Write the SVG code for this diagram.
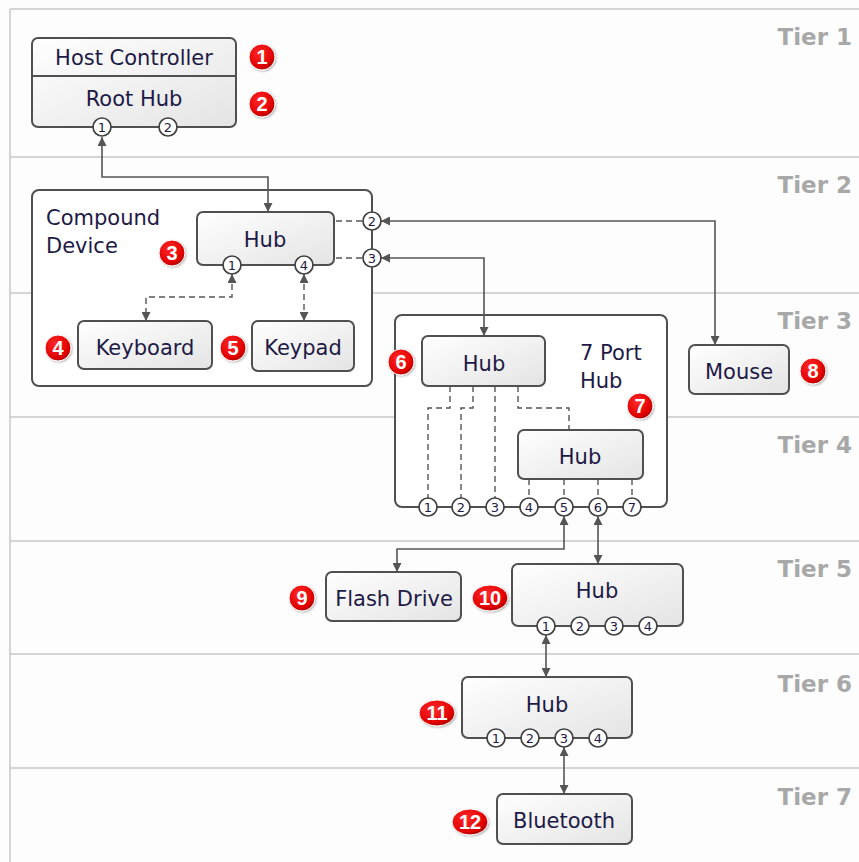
<svg xmlns="http://www.w3.org/2000/svg" width="859" height="862" viewBox="0 0 859 862">
<defs>
<linearGradient id="nf" x1="0" y1="0" x2="1" y2="1"><stop offset="0" stop-color="#ffffff"/><stop offset="1" stop-color="#e4e4e4"/></linearGradient>
<radialGradient id="bf" cx="0.4" cy="0.35" r="0.7"><stop offset="0" stop-color="#ff2a2a"/><stop offset="0.75" stop-color="#e00000"/><stop offset="1" stop-color="#a00000"/></radialGradient>
<marker id="ah" viewBox="0 0 10 10" refX="10" refY="5" markerWidth="9" markerHeight="9" orient="auto-start-reverse" markerUnits="userSpaceOnUse"><path d="M0,0 L10,5 L0,10 z" fill="#555"/></marker>
<filter id="sh" x="-20%" y="-20%" width="150%" height="150%"><feDropShadow dx="1" dy="1" stdDeviation="1" flood-color="#000" flood-opacity="0.3"/></filter>
</defs>
<style>
.tl{stroke:#c8c8c8;stroke-width:1.5;fill:none}
.tier{font-family:"DejaVu Sans",sans-serif;font-weight:bold;font-size:23px;fill:#a8a8a8;text-anchor:end}
.node{fill:url(#nf);stroke:#505050;stroke-width:2}
.grp{fill:#fff;stroke:#505050;stroke-width:2}
.lbl{font-family:"DejaVu Sans",sans-serif;font-size:21px;fill:#1e1a46;text-anchor:middle}
.glbl{font-family:"DejaVu Sans",sans-serif;font-size:21px;fill:#1e1a46}
.port{fill:#fff;stroke:#404040;stroke-width:1.7}
.pn{font-family:"DejaVu Sans",sans-serif;font-size:13px;fill:#1e1a46;text-anchor:middle}
.badge{fill:url(#bf);stroke:#fff;stroke-width:1;filter:url(#sh)}
.bn{font-family:"Liberation Sans",Arial,sans-serif;font-weight:bold;font-size:20px;fill:#fff;text-anchor:middle}
.c{fill:none;stroke:#555;stroke-width:1.6}
.cm{marker-start:url(#ah);marker-end:url(#ah)}
.d{fill:none;stroke:#555;stroke-width:1.4;stroke-dasharray:6,4}
</style>
<rect width="859" height="862" fill="#fdfdfd"/>
<g id="tiers">
<path class="tl" d="M10,9 H859 M10,9 V862 M10,157 H859 M10,293 H859 M10,417 H859 M10,541 H859 M10,654 H859 M10,768 H859"/>
<text class="tier" x="852" y="45">Tier 1</text>
<text class="tier" x="852" y="193">Tier 2</text>
<text class="tier" x="852" y="329">Tier 3</text>
<text class="tier" x="852" y="453">Tier 4</text>
<text class="tier" x="852" y="577">Tier 5</text>
<text class="tier" x="852" y="692">Tier 6</text>
<text class="tier" x="852" y="805">Tier 7</text>
</g>
<g id="compound-device">
<rect class="grp" x="32" y="190" width="340" height="196" rx="7"/>
<text class="glbl" x="46" y="225">Compound</text>
<text class="glbl" x="46" y="253">Device</text>
</g>
<g id="seven-port-hub">
<rect class="grp" x="395" y="315" width="272" height="192" rx="7"/>
<text class="glbl" x="580" y="360">7 Port</text>
<text class="glbl" x="580" y="388">Hub</text>
</g>
<g id="connectors">
<path class="c cm" d="M102,137 V177 H268 V212"/>
<path class="c cm" d="M381,221 H715 V345"/>
<path class="c cm" d="M381,258 H484 V336"/>
<path class="d cm" d="M232,274 V297 H146 V321"/>
<path class="d cm" d="M304,274 V321"/>
<path class="d" d="M336,221 H363 M336,258 H363"/>
<path class="d" d="M450,386 V408 H428 V498 M473,386 V408 H461 V498 M495,386 V498 M518,386 V408 H569 V430 M529,479 V498 M564,479 V498 M598,479 V498 M632,479 V498"/>
<path class="c cm" d="M564,516 V549 H397 V572"/>
<path class="c cm" d="M598,516 V564"/>
<path class="c cm" d="M546,635 V677"/>
<path class="c cm" d="M564,747 V794"/>
</g>
<g id="host-controller">
<rect class="node" x="32" y="38" width="204" height="89" rx="6"/>
<line x1="32" y1="76" x2="236" y2="76" stroke="#505050" stroke-width="2"/>
<text class="lbl" x="134" y="65">Host Controller</text>
<circle class="badge" cx="262" cy="57" r="13"/><text class="bn" x="262" y="64">1</text>
</g>
<g id="root-hub">
<text class="lbl" x="134" y="106">Root Hub</text>
<circle class="port" cx="102" cy="127" r="9"/><text class="pn" x="102" y="132">1</text>
<circle class="port" cx="168" cy="127" r="9"/><text class="pn" x="168" y="132">2</text>
<circle class="badge" cx="262" cy="104" r="13"/><text class="bn" x="262" y="111">2</text>
</g>
<g id="hub-compound">
<rect class="node" x="197" y="212" width="137" height="53" rx="6"/>
<text class="lbl" x="265" y="247">Hub</text>
<circle class="port" cx="232" cy="265" r="9"/><text class="pn" x="232" y="270">1</text>
<circle class="port" cx="304" cy="265" r="9"/><text class="pn" x="304" y="270">4</text>
<circle class="port" cx="372" cy="221" r="9"/><text class="pn" x="372" y="226">2</text>
<circle class="port" cx="372" cy="258" r="9"/><text class="pn" x="372" y="263">3</text>
<circle class="badge" cx="172" cy="253" r="13"/><text class="bn" x="172" y="260">3</text>
</g>
<g id="keyboard">
<rect class="node" x="78" y="321" width="134" height="48" rx="6"/>
<text class="lbl" x="145" y="355">Keyboard</text>
<circle class="badge" cx="58" cy="348" r="13"/><text class="bn" x="58" y="355">4</text>
</g>
<g id="keypad">
<rect class="node" x="252" y="321" width="102" height="50" rx="6"/>
<text class="lbl" x="303" y="355">Keypad</text>
<circle class="badge" cx="233" cy="348" r="13"/><text class="bn" x="233" y="355">5</text>
</g>
<g id="mouse">
<rect class="node" x="689" y="345" width="100" height="49" rx="6"/>
<text class="lbl" x="739" y="379">Mouse</text>
<circle class="badge" cx="813" cy="371" r="13"/><text class="bn" x="813" y="378">8</text>
</g>
<g id="hub-7a">
<rect class="node" x="422" y="336" width="123" height="50" rx="6"/>
<text class="lbl" x="484" y="371">Hub</text>
<circle class="badge" cx="401" cy="362" r="13"/><text class="bn" x="401" y="369">6</text>
<circle class="badge" cx="640" cy="406" r="13"/><text class="bn" x="640" y="413">7</text>
</g>
<g id="hub-7b">
<rect class="node" x="518" y="430" width="125" height="49" rx="6"/>
<text class="lbl" x="580" y="464">Hub</text>
</g>
<g id="ports-7">
<circle class="port" cx="428" cy="507" r="9"/><text class="pn" x="428" y="512">1</text>
<circle class="port" cx="461" cy="507" r="9"/><text class="pn" x="461" y="512">2</text>
<circle class="port" cx="495" cy="507" r="9"/><text class="pn" x="495" y="512">3</text>
<circle class="port" cx="529" cy="507" r="9"/><text class="pn" x="529" y="512">4</text>
<circle class="port" cx="564" cy="507" r="9"/><text class="pn" x="564" y="512">5</text>
<circle class="port" cx="598" cy="507" r="9"/><text class="pn" x="598" y="512">6</text>
<circle class="port" cx="632" cy="507" r="9"/><text class="pn" x="632" y="512">7</text>
</g>
<g id="flash-drive">
<rect class="node" x="326" y="572" width="135" height="49" rx="6"/>
<text class="lbl" x="394" y="606">Flash Drive</text>
<circle class="badge" cx="302" cy="598" r="13"/><text class="bn" x="302" y="605">9</text>
</g>
<g id="hub-t5">
<rect class="node" x="512" y="564" width="171" height="62" rx="6"/>
<text class="lbl" x="597" y="598">Hub</text>
<circle class="port" cx="546" cy="626" r="9"/><text class="pn" x="546" y="631">1</text>
<circle class="port" cx="580" cy="626" r="9"/><text class="pn" x="580" y="631">2</text>
<circle class="port" cx="614" cy="626" r="9"/><text class="pn" x="614" y="631">3</text>
<circle class="port" cx="648" cy="626" r="9"/><text class="pn" x="648" y="631">4</text>
<ellipse class="badge" cx="490" cy="598" rx="18" ry="13"/><text class="bn" x="490" y="605">10</text>
</g>
<g id="hub-t6">
<rect class="node" x="462" y="677" width="170" height="61" rx="6"/>
<text class="lbl" x="547" y="712">Hub</text>
<circle class="port" cx="496" cy="738" r="9"/><text class="pn" x="496" y="743">1</text>
<circle class="port" cx="530" cy="738" r="9"/><text class="pn" x="530" y="743">2</text>
<circle class="port" cx="564" cy="738" r="9"/><text class="pn" x="564" y="743">3</text>
<circle class="port" cx="598" cy="738" r="9"/><text class="pn" x="598" y="743">4</text>
<ellipse class="badge" cx="437" cy="713" rx="18" ry="13"/><text class="bn" x="437" y="720">11</text>
</g>
<g id="bluetooth">
<rect class="node" x="497" y="794" width="135" height="50" rx="6"/>
<text class="lbl" x="564" y="828">Bluetooth</text>
<ellipse class="badge" cx="470" cy="822" rx="18" ry="13"/><text class="bn" x="470" y="829">12</text>
</g>
</svg>
